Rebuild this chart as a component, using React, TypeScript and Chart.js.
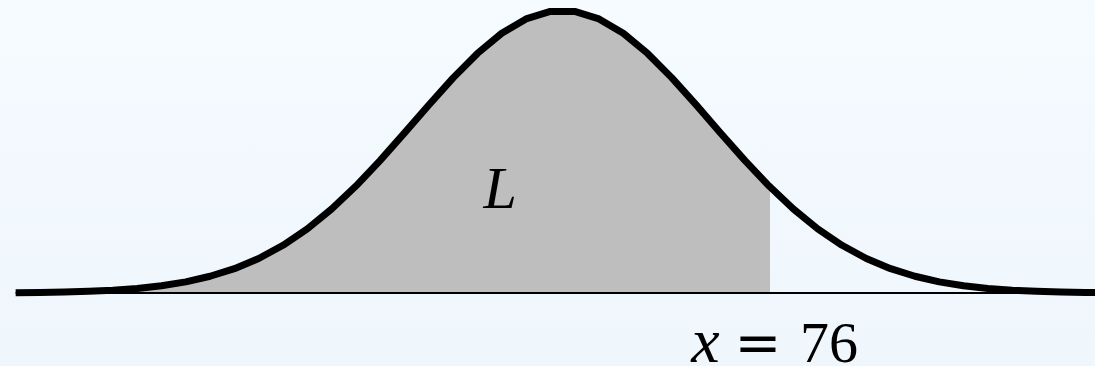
import React, { useEffect, useRef } from "react";
import { Chart, registerables } from "chart.js";

Chart.register(...registerables);

// Sampled curve: x positions (score units) and relative density heights
const curveX = [
  50.55, 51.37, 52.19, 53.01, 53.83, 54.65, 55.47, 56.29, 57.11, 57.93, 58.75, 59.57,
  60.39, 61.21, 62.03, 62.85, 63.67, 64.49, 65.31, 66.13, 66.95, 67.77, 68.59,
  69.41, 70.23, 71.05, 71.87, 72.69, 73.51, 74.33, 75.15, 75.97, 76.79, 77.61,
  78.43, 79.25, 80.07, 80.89, 81.71, 82.53, 83.35, 84.17, 84.99, 85.81, 86.63, 87.45,
];
const curveY = [
  0.0011, 0.002, 0.0035, 0.006, 0.01, 0.0163, 0.0257, 0.0395, 0.0592, 0.0862, 0.1223,
  0.1689, 0.227, 0.2971, 0.3785, 0.4693, 0.5666, 0.6658, 0.7616, 0.8481, 0.9194, 0.9702,
  0.9966,
  0.9966, 0.9702, 0.9194, 0.8481, 0.7616, 0.6658, 0.5666, 0.4693, 0.3785, 0.2971, 0.227,
  0.1689, 0.1223, 0.0862, 0.0592, 0.0395, 0.0257, 0.0163, 0.01, 0.006, 0.0035, 0.002,
  0.0011,
];
const cutX = 76;
const cutY = 0.3753;
const baselineX = [50.55, 87.45];
const baselineY = [0, 0];

const X_MIN = 50.022;
const X_MAX = 86.965;
const Y_MIN = -0.2584;
const Y_MAX = 1.0372;

const labelL = "L";
const labelLx = 66.9;
const labelLy = 0.301;
const cutLabelVar = "x";
const cutLabelEq = "=";
const cutLabelNum = "76";
const cutLabelY = -0.244;

const FONT_L = 'italic 60px "Liberation Serif"';
const FONT_VAR = 'italic 64px "Liberation Serif"';
const FONT_EQ = '56px "DejaVu Serif"';
const FONT_NUM = '58px "Liberation Serif"';

const textPlugin = {
  id: "curveLabels",
  afterDatasetsDraw(chart: any) {
    const ctx = chart.ctx;
    const xs = chart.scales.x;
    const ys = chart.scales.y;
    ctx.save();
    ctx.fillStyle = "#000";
    ctx.textAlign = "center";
    ctx.textBaseline = "alphabetic";
    ctx.font = FONT_L;
    ctx.fillText(labelL, xs.getPixelForValue(labelLx), ys.getPixelForValue(labelLy));
    const ax = xs.getPixelForValue(cutX);
    const by = ys.getPixelForValue(cutLabelY);
    ctx.font = FONT_VAR;
    ctx.fillText(cutLabelVar, ax - 64.5, by);
    ctx.font = FONT_EQ;
    ctx.fillText(cutLabelEq, ax - 12, by);
    ctx.font = FONT_NUM;
    ctx.fillText(cutLabelNum, ax + 59, by);
    ctx.restore();
  },
};

export default function App() {
  const ref = useRef<HTMLCanvasElement | null>(null);
  useEffect(() => {
    if (!ref.current) return;
    const curve = curveX.map((x, i) => ({ x, y: curveY[i] }));
    const shaded = curve.filter((p) => p.x <= cutX).concat([{ x: cutX, y: cutY }]);
    const base = baselineX.map((x, i) => ({ x, y: baselineY[i] }));
    const chart = new Chart(ref.current, {
      type: "line",
      data: {
        datasets: [
          {
            data: shaded,
            borderWidth: 0,
            borderColor: "rgba(0,0,0,0)",
            backgroundColor: "#bebebe",
            fill: "origin",
            pointRadius: 0,
            tension: 0,
            order: 3,
          },
          {
            data: base,
            borderWidth: 2,
            borderColor: "#000",
            fill: false,
            pointRadius: 0,
            order: 2,
          },
          {
            data: curve,
            borderWidth: 7,
            borderColor: "#000",
            borderJoinStyle: "round",
            borderCapStyle: "butt",
            fill: false,
            pointRadius: 0,
            tension: 0,
            order: 1,
          },
        ],
      },
      options: {
        animation: false,
        responsive: false,
        maintainAspectRatio: false,
        devicePixelRatio: 1,
        layout: { padding: 0, autoPadding: false },
        scales: {
          x: { type: "linear", display: false, min: X_MIN, max: X_MAX },
          y: { type: "linear", display: false, min: Y_MIN, max: Y_MAX },
        },
        plugins: { legend: { display: false }, tooltip: { enabled: false } },
      },
      plugins: [textPlugin],
    });
    let alive = true;
    const fonts: any = (document as any).fonts;
    if (fonts && fonts.load) {
      Promise.all([fonts.load(FONT_L), fonts.load(FONT_VAR), fonts.load(FONT_EQ), fonts.load(FONT_NUM)])
        .then(() => {
          if (alive) chart.update("none");
        })
        .catch(() => {});
    }
    return () => {
      alive = false;
      chart.destroy();
    };
  }, []);
  return (
    <div
      style={{
        position: "fixed",
        left: 0,
        top: 0,
        width: 1095,
        height: 366,
        overflow: "hidden",
        background: "linear-gradient(to bottom, #f5fbff, #eff6fc)",
      }}
    >
      <canvas ref={ref} width={1095} height={366} style={{ display: "block", width: 1095, height: 366 }} />
    </div>
  );
}
